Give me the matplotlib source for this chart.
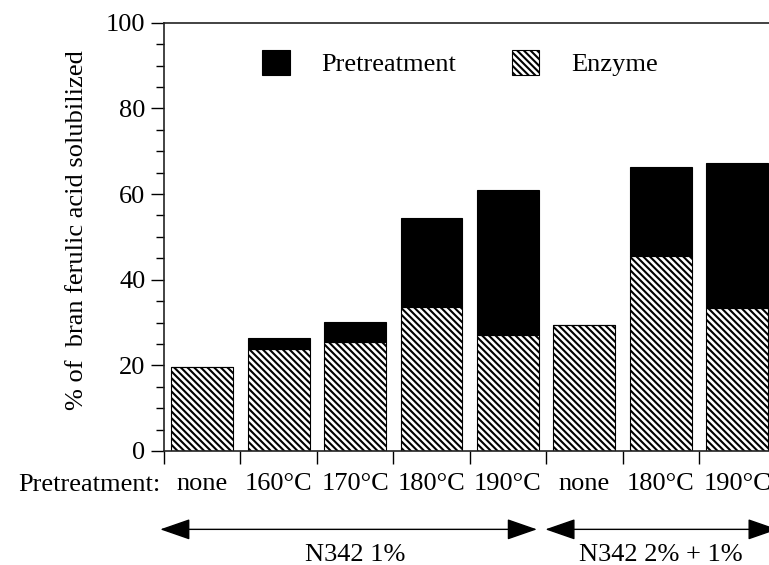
import numpy as np
import matplotlib
matplotlib.use("Agg")
import matplotlib.pyplot as plt
from matplotlib.ticker import MultipleLocator

plt.rcParams['font.family'] = ['Liberation Serif', 'DejaVu Serif']
plt.rcParams['hatch.linewidth'] = 1.5

# ferulic acid solubilized (%), enzyme part and pretreatment part of each bar
temps = ['none', '160°C', '170°C', '180°C', '190°C', 'none', '180°C', '190°C']
enzyme = [19.5, 23.8, 25.4, 33.6, 27.1, 29.3, 45.5, 33.5]
pretreatment = [0.0, 2.5, 4.8, 20.7, 33.8, 0.0, 20.8, 33.8]
groups = ['N342 1%', 'N342 2% + 1%']
group_span = [(-0.05, 4.88), (4.99, 8.03)]
group_center = [2.5, 6.5]

HATCH = chr(92) * 5  # dense back-slash stripes

fig = plt.figure(figsize=(7.69, 5.65), dpi=100)
# axes runs a little past the right edge of the figure
ax = fig.add_axes([0.2133, 0.2018, 0.795, 0.758])

x = np.arange(len(temps)) + 0.5
enz = ax.bar(x, enzyme, width=0.81, color='white', edgecolor='black',
             linewidth=0.8, hatch=HATCH, label='Enzyme')
pre = ax.bar(x, pretreatment, width=0.81, bottom=enzyme, color='black',
             edgecolor='black', linewidth=0.8, label='Pretreatment')

ax.set_xlim(0, 8)
ax.set_ylim(0, 100)

ax.yaxis.set_major_locator(MultipleLocator(20))
ax.yaxis.set_minor_locator(MultipleLocator(5))
ax.tick_params(axis='y', which='major', direction='out', length=9.4, width=1,
               labelsize=19, pad=4)
ax.tick_params(axis='y', which='minor', direction='out', length=5.8, width=1)

# ticks between bars, labels under bars
ax.set_xticks(np.arange(0, 9))
ax.set_xticklabels([])
ax.set_xticks(x, minor=True)
ax.set_xticklabels(temps, minor=True)
ax.tick_params(axis='x', which='major', direction='out', length=9.4, width=1)
ax.tick_params(axis='x', which='minor', length=0, labelsize=19, pad=16)

for s in ax.spines.values():
    s.set_linewidth(1.2)
    s.set_color('#222222')

ax.legend(handles=[pre, enz], ncol=2, loc='center left',
          bbox_to_anchor=(0.16, 0.905), frameon=False, fontsize=19,
          borderpad=0, borderaxespad=0, handlelength=1.05, handleheight=1.04,
          handletextpad=1.2, columnspacing=2.1)

ax.text(-0.142, 0.516, '% of  bran ferulic acid solubilized', rotation=90,
        ha='center', va='center', fontsize=19, transform=ax.transAxes)

trans = ax.get_xaxis_transform()
ax.text(-0.05, -0.08, 'Pretreatment:', ha='right', va='center', fontsize=19,
        transform=trans)

for name, (x0, x1), xc in zip(groups, group_span, group_center):
    ax.annotate('', xy=(x1, -0.183), xytext=(x0, -0.183), xycoords=trans,
                textcoords=trans, annotation_clip=False,
                arrowprops=dict(arrowstyle='<|-|>,head_length=0.95,head_width=0.33',
                                mutation_scale=20, shrinkA=0, shrinkB=0,
                                color='black', lw=1))
    ax.text(xc, -0.242, name, ha='center', va='center', fontsize=19,
            transform=trans)

fig.savefig('out.png', dpi=100)
